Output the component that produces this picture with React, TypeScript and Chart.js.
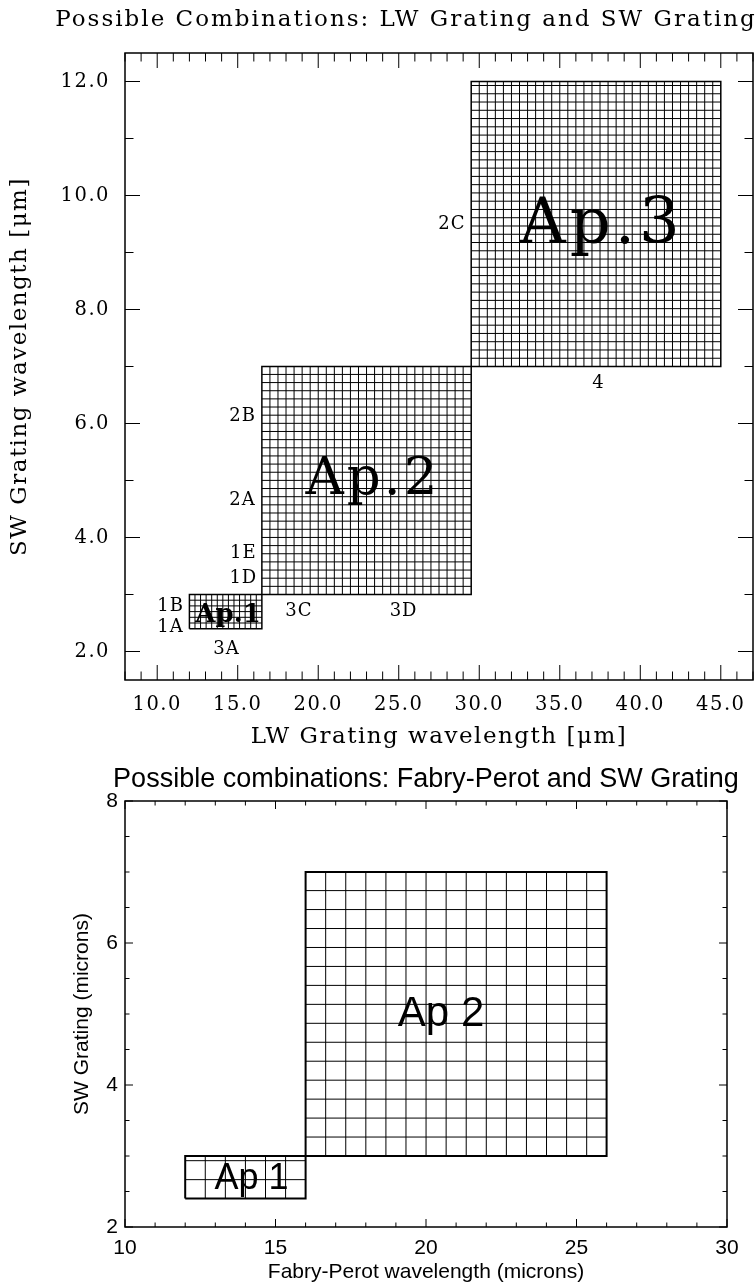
import React, { useEffect, useRef } from 'react';
import { Chart, registerables } from 'chart.js';

Chart.register(...registerables);

// ================= Upper panel: LW Grating vs SW Grating =================
const LW_TITLE = 'Possible Combinations: LW Grating and SW Grating';
const LW_X_TITLE = 'LW Grating wavelength [μm]';
const LW_Y_TITLE = 'SW Grating wavelength [μm]';
const LW_X_RANGE = [8, 47];
const LW_Y_RANGE = [1.5, 12.5];
const LW_X_TICKS = [10, 15, 20, 25, 30, 35, 40, 45];
const LW_Y_TICKS = [2, 4, 6, 8, 10, 12];
const LW_MINOR_STEPS = [1, 1];

const LW_AP_NAMES = ['Ap.1', 'Ap.2', 'Ap.3'];
const LW_AP_X_MIN = [12, 16.5, 29.5];
const LW_AP_X_MAX = [16.5, 29.5, 45];
const LW_AP_Y_MIN = [2.4, 3.0, 7.0];
const LW_AP_Y_MAX = [3.0, 7.0, 12.0];
const LW_AP_X_STEP = [0.346, 0.5, 0.5];
const LW_AP_Y_STEP = [0.1, 0.143, 0.145];
const LW_AP_LABEL_X = [14.4, 23.4, 37.6];
const LW_AP_LABEL_Y = [2.64, 5.0, 9.45];

const LW_BAND_NAMES = ['1A', '1B', '3A', '1D', '1E', '2A', '2B', '2C', '3C', '3D', '4'];
const LW_BAND_X = [10.83, 10.83, 14.3, 15.35, 15.35, 15.3, 15.3, 28.3, 18.8, 25.3, 37.4];
const LW_BAND_Y = [2.43, 2.8, 2.04, 3.29, 3.73, 4.66, 6.13, 9.5, 2.7, 2.7, 6.7];

// ================= Lower panel: Fabry-Perot vs SW Grating =================
const FP_TITLE = 'Possible combinations: Fabry-Perot and SW Grating';
const FP_X_TITLE = 'Fabry-Perot wavelength (microns)';
const FP_Y_TITLE = 'SW Grating (microns)';
const FP_X_RANGE = [10, 30];
const FP_Y_RANGE = [2, 8];
const FP_X_TICKS = [10, 15, 20, 25, 30];
const FP_Y_TICKS = [2, 4, 6, 8];
const FP_MINOR_STEPS = [1, 0.5];

const FP_AP_NAMES = ['Ap 1', 'Ap 2'];
const FP_AP_X_MIN = [12, 16];
const FP_AP_X_MAX = [16, 26];
const FP_AP_Y_MIN = [2.4, 3.0];
const FP_AP_Y_MAX = [3.0, 7.0];
const FP_AP_X_STEP = [0.667, 0.667];
const FP_AP_Y_STEP = [0.267, 0.267];
const FP_AP_LABEL_X = [14.2, 20.5];
const FP_AP_LABEL_Y = [2.68, 5.0];

const FP_BAND_NAMES: string[] = [];
const FP_BAND_X: number[] = [];
const FP_BAND_Y: number[] = [];

// ================= Styles / layout =================
const LW_STYLE = {
  width: 756, height: 760, top: 0,
  family: '"DejaVu Serif", serif',
  spacing: '1.5px', titleSpacing: '2px',
  tickSize: 19.5, titleSize: 23, axisTitleSize: 23, bandSize: 18, bandSpacing: '1px',
  apFonts: ['bold 26px', '53px', '64px'],
  apSpacing: ['0px', '3px', '4px'],
  gridWidth: 1, borderWidth: 1.5, frameWidth: 1.5,
  majorLen: 15, minorLen: 8.5,
  pad: { top: 53, right: 3, left: 0, bottom: 0 },
  yWidth: 125, xHeight: 80,
  xTickPad: 13.3, yTickPad: 15, xTitlePad: 9.2, yTitlePad: 6.2,
  titleX: 406 as number | null, titleY: 20,
  decimals: 1,
};

const FP_STYLE = {
  width: 756, height: 525, top: 760,
  family: '"Liberation Sans", Arial, sans-serif',
  spacing: '0px', titleSpacing: '0px',
  tickSize: 21, titleSize: 27, axisTitleSize: 21, bandSize: 20, bandSpacing: '0px',
  apFonts: ['36px', '42px'],
  apSpacing: ['0px', '0px'],
  gridWidth: 1, borderWidth: 2, frameWidth: 1.5,
  majorLen: 8, minorLen: 4.5,
  pad: { top: 41, right: 29, left: 0, bottom: 0 },
  yWidth: 125, xHeight: 58,
  xTickPad: 8.4, yTickPad: 7, xTitlePad: 0.4, yTitlePad: 69.4,
  titleX: null as number | null, titleY: 20,
  decimals: 0,
};

type Panel = {
  title: string; xTitle: string; yTitle: string;
  xRange: number[]; yRange: number[]; xTicks: number[]; yTicks: number[]; minor: number[];
  apNames: string[]; apXMin: number[]; apXMax: number[]; apYMin: number[]; apYMax: number[];
  apXStep: number[]; apYStep: number[]; apLabelX: number[]; apLabelY: number[];
  bandNames: string[]; bandX: number[]; bandY: number[];
  style: typeof LW_STYLE;
};

const LW_PANEL: Panel = {
  title: LW_TITLE, xTitle: LW_X_TITLE, yTitle: LW_Y_TITLE,
  xRange: LW_X_RANGE, yRange: LW_Y_RANGE, xTicks: LW_X_TICKS, yTicks: LW_Y_TICKS, minor: LW_MINOR_STEPS,
  apNames: LW_AP_NAMES, apXMin: LW_AP_X_MIN, apXMax: LW_AP_X_MAX, apYMin: LW_AP_Y_MIN, apYMax: LW_AP_Y_MAX,
  apXStep: LW_AP_X_STEP, apYStep: LW_AP_Y_STEP, apLabelX: LW_AP_LABEL_X, apLabelY: LW_AP_LABEL_Y,
  bandNames: LW_BAND_NAMES, bandX: LW_BAND_X, bandY: LW_BAND_Y,
  style: LW_STYLE,
};

const FP_PANEL: Panel = {
  title: FP_TITLE, xTitle: FP_X_TITLE, yTitle: FP_Y_TITLE,
  xRange: FP_X_RANGE, yRange: FP_Y_RANGE, xTicks: FP_X_TICKS, yTicks: FP_Y_TICKS, minor: FP_MINOR_STEPS,
  apNames: FP_AP_NAMES, apXMin: FP_AP_X_MIN, apXMax: FP_AP_X_MAX, apYMin: FP_AP_Y_MIN, apYMax: FP_AP_Y_MAX,
  apXStep: FP_AP_X_STEP, apYStep: FP_AP_Y_STEP, apLabelX: FP_AP_LABEL_X, apLabelY: FP_AP_LABEL_Y,
  bandNames: FP_BAND_NAMES, bandX: FP_BAND_X, bandY: FP_BAND_Y,
  style: FP_STYLE,
};

type Pt = { x: number; y: number | null };

function buildLines(p: Panel) {
  const grid: Pt[] = [];
  const borders: Pt[] = [];
  p.apNames.forEach((_, k) => {
    const x0 = p.apXMin[k], x1 = p.apXMax[k], y0 = p.apYMin[k], y1 = p.apYMax[k];
    const dx = p.apXStep[k], dy = p.apYStep[k];
    for (let i = 1; x0 + i * dx < x1 - dx * 0.05; i++) {
      const x = x0 + i * dx;
      grid.push({ x, y: y0 }, { x, y: y1 }, { x, y: null });
    }
    for (let j = 1; y0 + j * dy < y1 - dy * 0.05; j++) {
      const y = y0 + j * dy;
      grid.push({ x: x0, y }, { x: x1, y }, { x: x1, y: null });
    }
    borders.push(
      { x: x0, y: y0 }, { x: x1, y: y0 }, { x: x1, y: y1 }, { x: x0, y: y1 }, { x: x0, y: y0 },
      { x: x0, y: null },
    );
  });
  return { grid, borders };
}

function makeChart(canvas: HTMLCanvasElement, p: Panel) {
  const st = p.style;
  const { grid, borders } = buildLines(p);
  const tickFont = { family: st.family, size: st.tickSize };
  const axisFont = { family: st.family, size: st.axisTitleSize };

  const panelPlugin = {
    id: 'panelDecor',
    beforeDraw(chart: any) {
      (chart.ctx as any).letterSpacing = st.spacing;
    },
    beforeDatasetsDraw(chart: any) {
      (chart.ctx as any).letterSpacing = st.spacing;
    },
    afterDatasetsDraw(chart: any) {
      const { ctx, scales } = chart;
      const xs = scales.x, ys = scales.y;
      ctx.save();
      ctx.fillStyle = '#000';
      ctx.textAlign = 'center';
      ctx.textBaseline = 'middle';
      p.bandNames.forEach((name, i) => {
        ctx.font = `${st.bandSize}px ${st.family}`;
        ctx.letterSpacing = st.bandSpacing;
        ctx.fillText(name, xs.getPixelForValue(p.bandX[i]), ys.getPixelForValue(p.bandY[i]));
      });
      p.apNames.forEach((name, i) => {
        ctx.font = `${st.apFonts[i]} ${st.family}`;
        ctx.letterSpacing = st.apSpacing[i];
        ctx.fillText(name, xs.getPixelForValue(p.apLabelX[i]), ys.getPixelForValue(p.apLabelY[i]));
      });
      ctx.restore();
    },
    afterDraw(chart: any) {
      const { ctx, chartArea: a, scales } = chart;
      const xs = scales.x, ys = scales.y;
      ctx.save();
      ctx.strokeStyle = '#000';
      // frame
      ctx.lineWidth = st.frameWidth;
      ctx.strokeRect(a.left, a.top, a.right - a.left, a.bottom - a.top);
      // ticks (inward on all four sides)
      ctx.lineWidth = 1;
      ctx.beginPath();
      const isMajor = (list: number[], v: number) => list.some((t) => Math.abs(t - v) < 1e-6);
      const [mx, my] = p.minor;
      for (let i = Math.ceil(p.xRange[0] / mx); i * mx <= p.xRange[1] + 1e-9; i++) {
        const v = i * mx;
        const len = isMajor(p.xTicks, v) ? st.majorLen : st.minorLen;
        const px = xs.getPixelForValue(v);
        ctx.moveTo(px, a.bottom); ctx.lineTo(px, a.bottom - len);
        ctx.moveTo(px, a.top); ctx.lineTo(px, a.top + len);
      }
      for (let j = Math.ceil(p.yRange[0] / my); j * my <= p.yRange[1] + 1e-9; j++) {
        const v = j * my;
        const len = isMajor(p.yTicks, v) ? st.majorLen : st.minorLen;
        const py = ys.getPixelForValue(v);
        ctx.moveTo(a.left, py); ctx.lineTo(a.left + len, py);
        ctx.moveTo(a.right, py); ctx.lineTo(a.right - len, py);
      }
      ctx.stroke();
      // main title
      ctx.fillStyle = '#000';
      ctx.font = `${st.titleSize}px ${st.family}`;
      ctx.letterSpacing = st.titleSpacing;
      ctx.textAlign = 'center';
      ctx.textBaseline = 'middle';
      const tx = st.titleX ?? (a.left + a.right) / 2;
      ctx.fillText(p.title, tx, st.titleY);
      ctx.restore();
      (ctx as any).letterSpacing = '0px';
    },
  };

  return new Chart(canvas, {
    type: 'scatter',
    data: {
      datasets: [
        {
          label: 'grid',
          data: grid as any,
          showLine: true,
          spanGaps: false,
          borderColor: '#000',
          borderWidth: st.gridWidth,
          pointRadius: 0,
          fill: false,
        },
        {
          label: 'aperture',
          data: borders as any,
          showLine: true,
          spanGaps: false,
          borderColor: '#000',
          borderWidth: st.borderWidth,
          pointRadius: 0,
          fill: false,
        },
      ],
    },
    options: {
      responsive: false,
      animation: false,
      events: [],
      layout: { padding: st.pad },
      plugins: {
        legend: { display: false },
        tooltip: { enabled: false },
        title: { display: false },
      },
      scales: {
        x: {
          type: 'linear',
          min: p.xRange[0],
          max: p.xRange[1],
          afterBuildTicks: (s: any) => { s.ticks = p.xTicks.map((v) => ({ value: v })); },
          afterFit: (s: any) => { s.height = st.xHeight; },
          grid: { display: false, drawTicks: false },
          border: { display: false },
          ticks: {
            autoSkip: false, maxRotation: 0, minRotation: 0,
            padding: st.xTickPad, color: '#000', font: tickFont,
            callback: (v: any) => Number(v).toFixed(st.decimals),
          },
          title: {
            display: true, text: p.xTitle, color: '#000', font: axisFont,
            padding: { top: 0, bottom: st.xTitlePad },
          },
        },
        y: {
          type: 'linear',
          min: p.yRange[0],
          max: p.yRange[1],
          afterBuildTicks: (s: any) => { s.ticks = p.yTicks.map((v) => ({ value: v })); },
          afterFit: (s: any) => { s.width = st.yWidth; },
          grid: { display: false, drawTicks: false },
          border: { display: false },
          ticks: {
            autoSkip: false,
            padding: st.yTickPad, color: '#000', font: tickFont,
            callback: (v: any) => Number(v).toFixed(st.decimals),
          },
          title: {
            display: true, text: p.yTitle, color: '#000', font: axisFont,
            padding: { top: st.yTitlePad, bottom: 0 },
          },
        },
      },
    },
    plugins: [panelPlugin],
  } as any);
}

export default function App() {
  const topRef = useRef<HTMLCanvasElement>(null);
  const botRef = useRef<HTMLCanvasElement>(null);

  useEffect(() => {
    const c1 = makeChart(topRef.current as HTMLCanvasElement, LW_PANEL);
    const c2 = makeChart(botRef.current as HTMLCanvasElement, FP_PANEL);
    return () => {
      c1.destroy();
      c2.destroy();
    };
  }, []);

  return (
    <div style={{ position: 'absolute', left: 0, top: 0, width: 756, height: 1285, background: '#fff' }}>
      <canvas
        ref={topRef}
        width={LW_STYLE.width}
        height={LW_STYLE.height}
        style={{ position: 'absolute', left: 0, top: LW_STYLE.top, width: LW_STYLE.width, height: LW_STYLE.height }}
      />
      <canvas
        ref={botRef}
        width={FP_STYLE.width}
        height={FP_STYLE.height}
        style={{ position: 'absolute', left: 0, top: FP_STYLE.top, width: FP_STYLE.width, height: FP_STYLE.height }}
      />
    </div>
  );
}
